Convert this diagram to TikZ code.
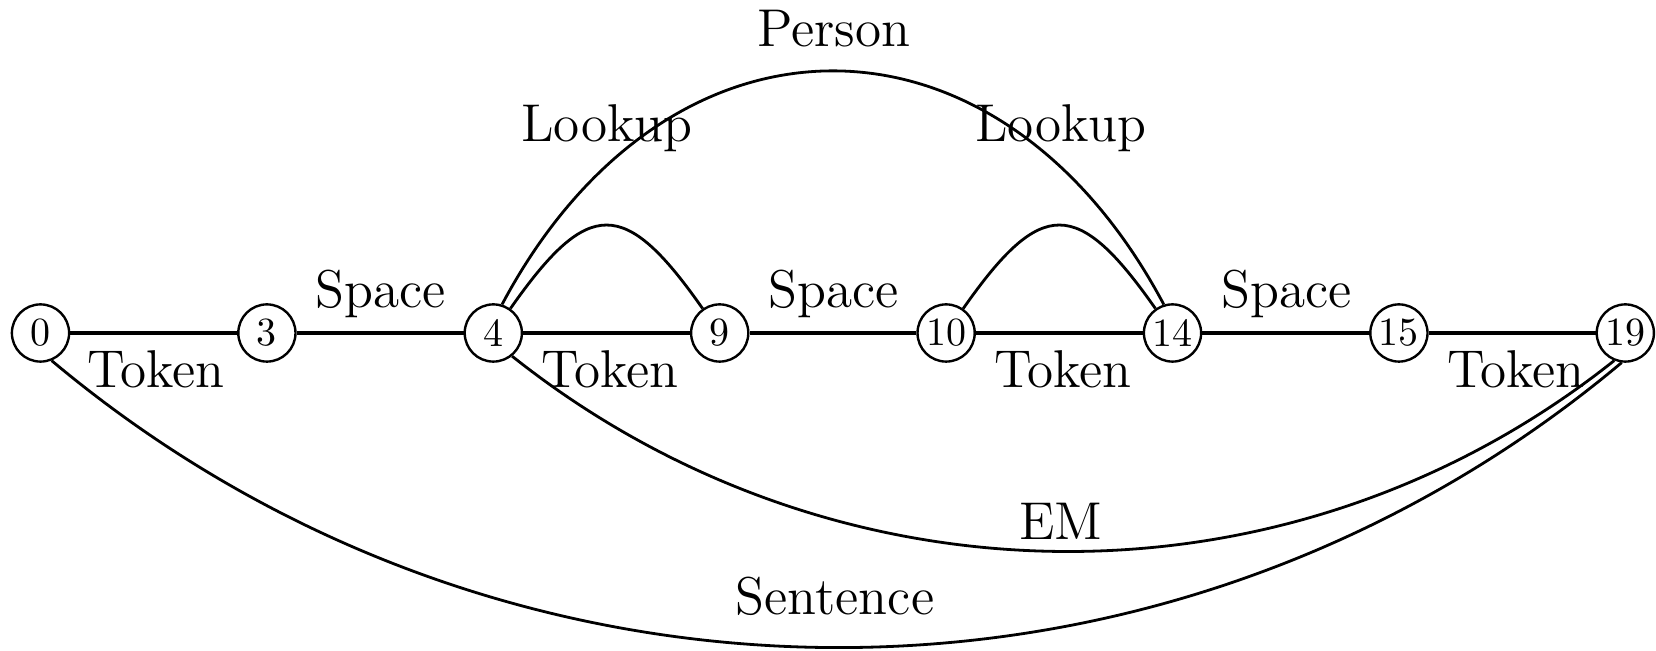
\documentclass[tikz,border=0pt]{standalone}
\begin{document}
\tikzset{
  vtx/.style={circle, draw, line width=0.6pt, minimum size=14.3pt, inner sep=0.5pt, font=\fontsize{10}{12}\selectfont},
  lbl/.style={font=\fontsize{13.3}{16}\selectfont, anchor=base, inner sep=0pt},
  edgeline/.style={line width=0.8pt},
  arcline/.style={line width=0.7pt}
}
\begin{tikzpicture}[x=0.25pt, y=0.25pt]
\useasboundingbox (0,0) rectangle (1656,651);
% vertices
\node[vtx] (n0)  at (40.5,318)   {0};
\node[vtx] (n3)  at (266.9,318)  {3};
\node[vtx] (n4)  at (493.3,318)  {4};
\node[vtx] (n9)  at (719.7,318)  {9};
\node[vtx] (n10) at (946.1,318)  {10};
\node[vtx] (n14) at (1172.5,318) {14};
\node[vtx] (n15) at (1398.9,318) {15};
\node[vtx] (n19) at (1625.3,318) {19};
% straight edges
\draw[edgeline] (n0) -- (n3);
\draw[edgeline] (n3) -- (n4);
\draw[edgeline] (n4) -- (n9);
\draw[edgeline] (n9) -- (n10);
\draw[edgeline] (n10) -- (n14);
\draw[edgeline] (n14) -- (n15);
\draw[edgeline] (n15) -- (n19);
% arcs
\draw[arcline] (n4) to[out=55, in=125, distance=34pt] (n9);
\draw[arcline] (n10) to[out=55, in=125, distance=34pt] (n14);
\draw[arcline] (n4.73) to[out=62, in=118, distance=88.2pt] (n14.107);
\draw[arcline] (n4.-51) to[out=-38.5, in=-141.5, distance=103.4pt] (n19.-112);
\draw[arcline] (n0.-68) to[out=-40, in=-140, distance=148.3pt] (n19.-97);
% labels
\node[lbl] (t1) at (156,263)  {Token};
\node[lbl] (t2) at (610,263)  {Token};
\node[lbl] (t3) at (1063,263) {Token};
\node[lbl] (t4) at (1516,263) {Token};
\node[lbl] (s1) at (381,343)  {Space};
\node[lbl] (s2) at (834,343)  {Space};
\node[lbl] (s3) at (1287,343) {Space};
\node[lbl] (l1) at (607,509)  {Lookup};
\node[lbl] (l2) at (1061,509) {Lookup};
\node[lbl] (pp) at (834,604)  {Person};
\node[lbl] (em) at (1061,111) {EM};
\node[lbl] (se) at (835,36)   {Sentence};
\end{tikzpicture}
\end{document}
